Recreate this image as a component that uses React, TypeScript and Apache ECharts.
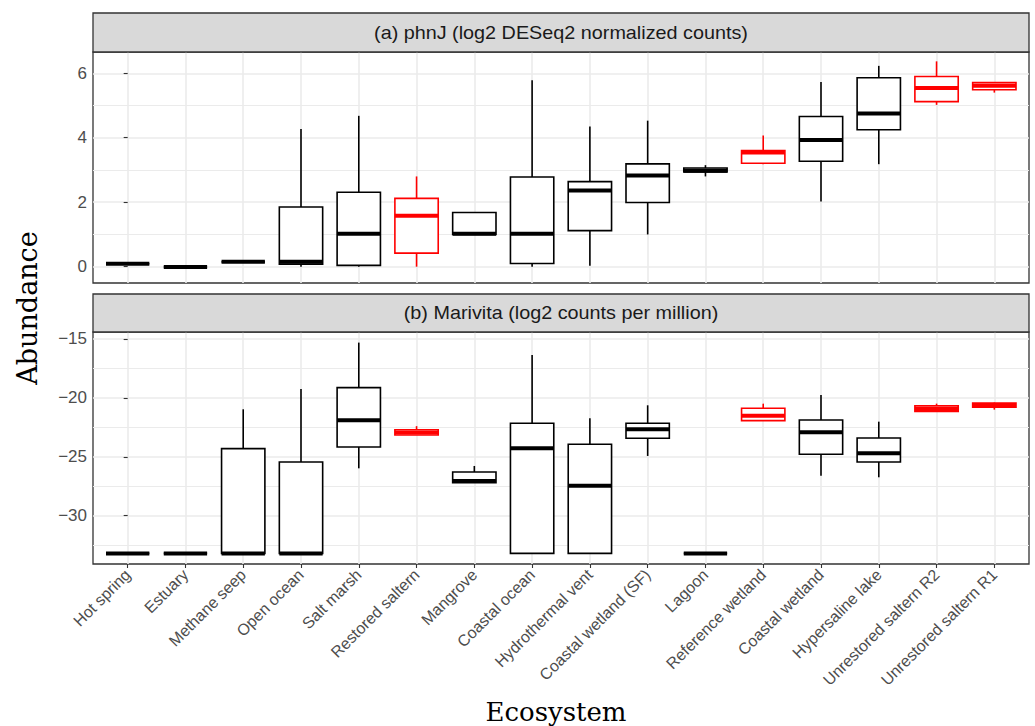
import React, { useEffect, useRef } from "react";
import * as echarts from "echarts";

const categories = [
  "Hot spring",
  "Estuary",
  "Methane seep",
  "Open ocean",
  "Salt marsh",
  "Restored saltern",
  "Mangrove",
  "Coastal ocean",
  "Hydrothermal vent",
  "Coastal wetland (SF)",
  "Lagoon",
  "Reference wetland",
  "Coastal wetland",
  "Hypersaline lake",
  "Unrestored saltern R2",
  "Unrestored saltern R1",
];

const highlighted = [
  "Restored saltern",
  "Reference wetland",
  "Unrestored saltern R2",
  "Unrestored saltern R1",
];

// [lower whisker, Q1, median, Q3, upper whisker]
const phnJStats = [
  [0.09, 0.09, 0.09, 0.09, 0.09],
  [-0.01, -0.01, -0.01, -0.01, -0.01],
  [0.15, 0.15, 0.15, 0.15, 0.15],
  [0.0, 0.08, 0.15, 1.85, 4.27],
  [0.0, 0.04, 1.02, 2.31, 4.68],
  [0.0, 0.42, 1.58, 2.12, 2.8],
  [1.0, 1.0, 1.02, 1.68, 1.68],
  [0.0, 0.1, 1.02, 2.78, 5.78],
  [0.03, 1.12, 2.36, 2.64, 4.35],
  [1.0, 1.99, 2.83, 3.19, 4.53],
  [2.8, 2.94, 2.98, 3.06, 3.15],
  [3.18, 3.21, 3.54, 3.6, 4.07],
  [2.02, 3.27, 3.93, 4.66, 5.73],
  [3.18, 4.25, 4.75, 5.86, 6.23],
  [5.02, 5.12, 5.54, 5.9, 6.37],
  [5.4, 5.49, 5.61, 5.71, 5.71],
];

const marivitaStats = [
  [-33.2, -33.2, -33.2, -33.2, -33.2],
  [-33.2, -33.2, -33.2, -33.2, -33.2],
  [-33.2, -33.2, -33.2, -24.31, -20.97],
  [-33.2, -33.2, -33.2, -25.44, -19.24],
  [-25.98, -24.17, -21.9, -19.13, -15.31],
  [-23.15, -23.15, -22.95, -22.7, -22.4],
  [-27.2, -27.2, -27.05, -26.29, -25.78],
  [-33.2, -33.2, -24.28, -22.16, -16.36],
  [-33.2, -33.2, -27.45, -23.94, -21.73],
  [-24.93, -23.43, -22.67, -22.16, -20.63],
  [-33.2, -33.2, -33.2, -33.2, -33.2],
  [-21.93, -21.93, -21.51, -20.88, -20.49],
  [-26.6, -24.79, -22.92, -21.88, -19.75],
  [-26.74, -25.44, -24.7, -23.4, -22.02],
  [-21.15, -21.15, -20.94, -20.68, -20.49],
  [-21.0, -20.8, -20.62, -20.45, -20.4],
];

const phnJTicks = [0, 2, 4, 6];
const phnJMinor = [1, 3, 5];
const marivitaTicks = [-30, -25, -20, -15];
const marivitaMinor = [-32.5, -27.5, -22.5, -17.5];

const stripTitles = [
  "(a) phnJ (log2 DESeq2 normalized counts)",
  "(b) Marivita (log2 counts per million)",
];
const yTitle = "Abundance";
const xTitle = "Ecosystem";

const PANEL_LEFT = 93;
const PANEL_W = 936;
const TOP_STRIP_Y = 13;
const TOP_PANEL_Y = 52;
const TOP_PANEL_H = 231;
const BOT_STRIP_Y = 294;
const BOT_PANEL_Y = 332;
const BOT_PANEL_H = 232;

const GRID_COLOR = "#EBEBEB";
const BORDER = "#333333";

const fmtNum = (v: number) => (v < 0 ? "\u2212" + Math.abs(v) : String(v));

function renderBox(params: any, api: any) {
  const i = api.value(0);
  const lo = api.value(1);
  const q1 = api.value(2);
  const med = api.value(3);
  const q3 = api.value(4);
  const hi = api.value(5);
  const color = highlighted.includes(categories[i]) ? "#FF0000" : "#000000";
  const half = api.size([1, 0])[0] * 0.375;
  const pLo = api.coord([i, lo]);
  const pQ1 = api.coord([i, q1]);
  const pMed = api.coord([i, med]);
  const pQ3 = api.coord([i, q3]);
  const pHi = api.coord([i, hi]);
  const cx = pMed[0];
  return {
    type: "group",
    children: [
      {
        type: "line",
        shape: { x1: cx, y1: pHi[1], x2: cx, y2: pQ3[1] },
        style: { stroke: color, lineWidth: 1.6 },
      },
      {
        type: "line",
        shape: { x1: cx, y1: pQ1[1], x2: cx, y2: pLo[1] },
        style: { stroke: color, lineWidth: 1.6 },
      },
      {
        type: "rect",
        shape: { x: cx - half, y: pQ3[1], width: half * 2, height: pQ1[1] - pQ3[1] },
        style: { fill: "#FFFFFF", stroke: color, lineWidth: 1.6 },
      },
      {
        type: "line",
        shape: { x1: cx - half, y1: pMed[1], x2: cx + half, y2: pMed[1] },
        style: { stroke: color, lineWidth: 4 },
      },
    ],
  };
}

export default function App() {
  const ref = useRef<HTMLDivElement>(null);

  useEffect(() => {
    document.body.style.margin = "0";
    if (!ref.current) return;
    const chart = echarts.init(ref.current, null, { renderer: "svg" });

    const catIdx = categories.map((_, i) => i);

    const xAxisBase = (gridIndex: number, showLabels: boolean) => ({
      type: "value",
      gridIndex,
      min: -0.6,
      max: 15.6,
      axisLine: { show: false },
      axisTick: {
        show: showLabels,
        customValues: catIdx,
        length: 4,
        lineStyle: { color: BORDER, width: 1.1 },
      },
      axisLabel: {
        show: showLabels,
        customValues: catIdx,
        formatter: (v: number) => categories[Math.round(v)],
        rotate: 45,
        margin: 8,
        color: "#4D4D4D",
        fontSize: 16,
        fontFamily: "Liberation Sans",
      },
      splitLine: { show: true, lineStyle: { color: GRID_COLOR, width: 1.6 } },
    });

    const yMain = (gridIndex: number, min: number, max: number, ticks: number[]) => ({
      type: "value",
      gridIndex,
      min,
      max,
      position: "left",
      axisLine: { show: false },
      axisTick: {
        show: true,
        customValues: ticks,
        length: 4,
        lineStyle: { color: BORDER, width: 1.1 },
      },
      axisLabel: {
        customValues: ticks,
        formatter: fmtNum,
        color: "#4D4D4D",
        fontSize: 17,
        fontFamily: "Liberation Sans",
        margin: 6,
      },
      splitLine: { show: true, lineStyle: { color: GRID_COLOR, width: 1.6 } },
    });

    const yMinor = (gridIndex: number, min: number, max: number, ticks: number[]) => ({
      type: "value",
      gridIndex,
      min,
      max,
      position: "right",
      axisLine: { show: false },
      axisTick: { show: false, customValues: ticks },
      axisLabel: { show: false, customValues: ticks },
      splitLine: { show: true, lineStyle: { color: GRID_COLOR, width: 1.1 } },
    });

    const strip = (y: number, h: number, text: string) => [
      {
        type: "rect",
        shape: { x: PANEL_LEFT, y, width: PANEL_W, height: h },
        style: { fill: "#D9D9D9", stroke: BORDER, lineWidth: 1.3 },
        z: 10,
      },
      {
        type: "text",
        x: PANEL_LEFT + PANEL_W / 2,
        y: y + h / 2,
        scaleX: 1.1,
        style: {
          text,
          fill: "#1A1A1A",
          font: "18px 'Liberation Sans'",
          textAlign: "center",
          textVerticalAlign: "middle",
        },
        z: 11,
      },
    ];

    chart.setOption({
      animation: false,
      backgroundColor: "#FFFFFF",
      grid: [
        {
          left: PANEL_LEFT,
          top: TOP_PANEL_Y,
          width: PANEL_W,
          height: TOP_PANEL_H,
          show: true,
          backgroundColor: "#FFFFFF",
          borderColor: BORDER,
          borderWidth: 1.3,
        },
        {
          left: PANEL_LEFT,
          top: BOT_PANEL_Y,
          width: PANEL_W,
          height: BOT_PANEL_H,
          show: true,
          backgroundColor: "#FFFFFF",
          borderColor: BORDER,
          borderWidth: 1.3,
        },
      ],
      xAxis: [xAxisBase(0, false), xAxisBase(1, true)],
      yAxis: [
        yMain(0, -0.506, 6.66, phnJTicks),
        yMinor(0, -0.506, 6.66, phnJMinor),
        yMain(1, -34.1, -14.41, marivitaTicks),
        yMinor(1, -34.1, -14.41, marivitaMinor),
      ],
      series: [
        {
          type: "custom",
          name: "phnJ",
          xAxisIndex: 0,
          yAxisIndex: 0,
          data: phnJStats.map((s, i) => [i, ...s]),
          encode: { x: 0, y: [1, 2, 3, 4, 5] },
          renderItem: renderBox,
          z: 5,
        },
        {
          type: "custom",
          name: "Marivita",
          xAxisIndex: 1,
          yAxisIndex: 2,
          data: marivitaStats.map((s, i) => [i, ...s]),
          encode: { x: 0, y: [1, 2, 3, 4, 5] },
          renderItem: renderBox,
          z: 5,
        },
      ],
      graphic: [
        ...strip(TOP_STRIP_Y, TOP_PANEL_Y - TOP_STRIP_Y, stripTitles[0]),
        ...strip(BOT_STRIP_Y, BOT_PANEL_Y - BOT_STRIP_Y, stripTitles[1]),
        {
          type: "text",
          x: 27,
          y: 308,
          rotation: Math.PI / 2,
          style: {
            text: yTitle,
            fill: "#000000",
            font: "27px 'DejaVu Serif'",
            textAlign: "center",
            textVerticalAlign: "middle",
          },
        },
        {
          type: "text",
          x: 556,
          y: 712,
          style: {
            text: xTitle,
            fill: "#000000",
            font: "26px 'DejaVu Serif'",
            textAlign: "center",
            textVerticalAlign: "middle",
          },
        },
      ],
    });

    return () => chart.dispose();
  }, []);

  return <div ref={ref} style={{ width: 1035, height: 726 }} />;
}
